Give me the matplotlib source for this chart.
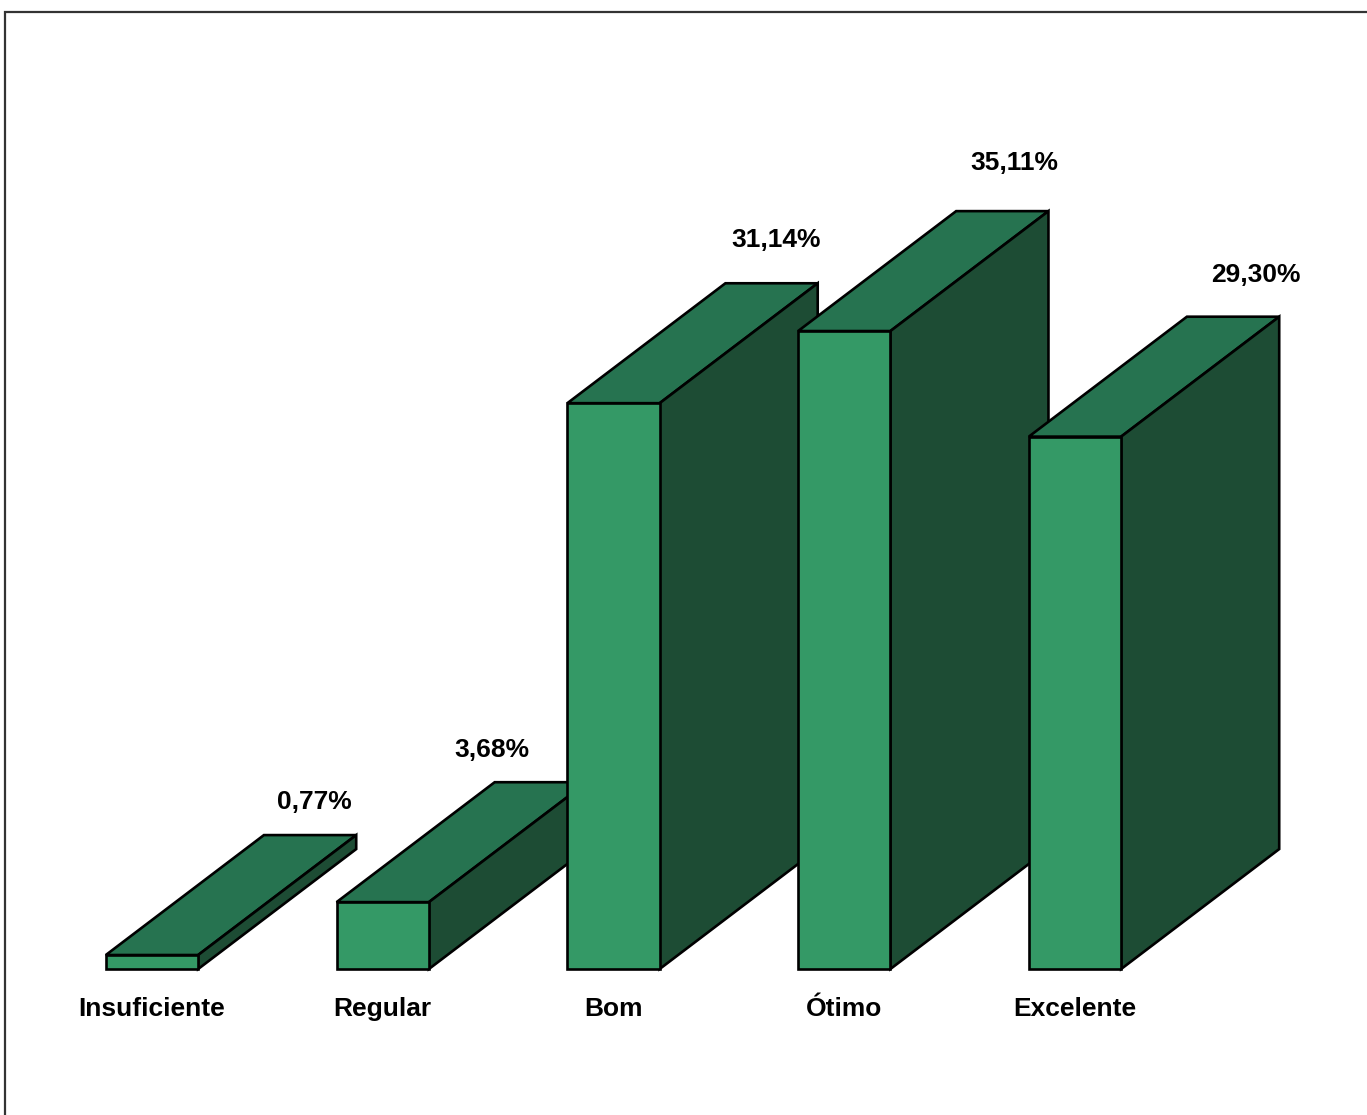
import matplotlib
matplotlib.use("Agg")
import matplotlib.pyplot as plt
from matplotlib.patches import Polygon, Rectangle

categories = ["Insuficiente", "Regular", "Bom", "Ótimo", "Excelente"]
values = [0.77, 3.68, 31.14, 35.11, 29.30]
value_labels = ["0,77%", "3,68%", "31,14%", "35,11%", "29,30%"]

# style / layout
label_dx = [0.02, -0.21, 0.02, 0.05, 0.10]   # nudges of value labels (category units)
label_dy = [1.8, 1.8, 2.4, 2.65, 2.3]        # gap above the back top edge (%)
front_c = "#349966"
top_c = "#267350"
side_c = "#1d4c34"
bar_w = 0.4
depth_x = 0.685
depth_y = 6.6

W, H = 1367, 1115
fig = plt.figure(figsize=(W / 100, H / 100), dpi=100)
ax = fig.add_axes([0, 0, 1, 1])
ax.set_xlim(-152 / 230.75, (W - 152) / 230.75)
ax.set_ylim(-(H - 969) / 18.17, 969 / 18.17)
ax.axis("off")

font = {"family": ["Liberation Sans", "DejaVu Sans"], "weight": "bold", "size": 19}
ew = 1.9

for i, v in enumerate(values):
    x0, x1 = i - bar_w / 2, i + bar_w / 2
    z = 10 + i * 3
    front = Polygon([(x0, 0), (x1, 0), (x1, v), (x0, v)], closed=True,
                    facecolor=front_c, edgecolor="black", lw=ew, zorder=z + 2, joinstyle="miter")
    top = Polygon([(x0, v), (x1, v), (x1 + depth_x, v + depth_y), (x0 + depth_x, v + depth_y)],
                  closed=True, facecolor=top_c, edgecolor="black", lw=ew, zorder=z, joinstyle="miter")
    side = Polygon([(x1, 0), (x1 + depth_x, depth_y), (x1 + depth_x, v + depth_y), (x1, v)],
                   closed=True, facecolor=side_c, edgecolor="black", lw=ew, zorder=z + 1, joinstyle="miter")
    for p in (top, side, front):
        ax.add_patch(p)
    ax.text(i + depth_x + label_dx[i], v + depth_y + label_dy[i], value_labels[i],
            ha="center", va="center", zorder=50, **font)
    ax.text(i, -2.2, categories[i], ha="center", va="center", zorder=50, **font)

fig.patches.append(Rectangle((5 / W, -0.05), 1.2, 1.05 - 12 / H, transform=fig.transFigure,
                             fill=False, edgecolor="#333333", lw=1.6, figure=fig))

fig.savefig("out.png", dpi=100, facecolor="white")
